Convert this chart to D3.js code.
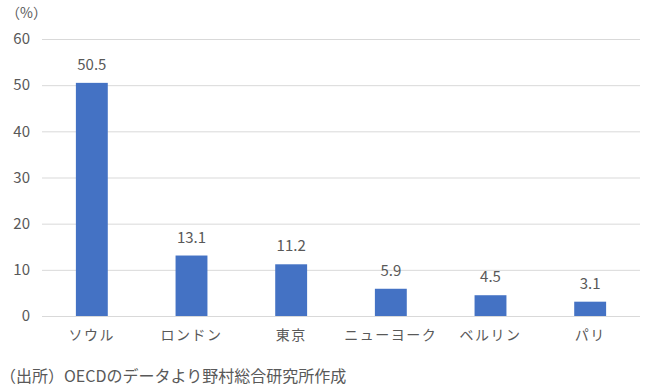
<!DOCTYPE html>
<html>
<head>
<meta charset="utf-8">
<script src="https://cdn.jsdelivr.net/npm/d3@7"></script>
<style>
  body { margin: 0; background: #fff; }
  text { font-family: "Noto Sans CJK JP", "Noto Sans", sans-serif; fill: #595959; }
</style>
</head>
<body>
<div id="chart"></div>
<script>
// 都市別の数値 (%)
const cities = ["ソウル", "ロンドン", "東京", "ニューヨーク", "ベルリン", "パリ"];
const values = [50.5, 13.1, 11.2, 5.9, 4.5, 3.1];
const yTicks = [0, 10, 20, 30, 40, 50, 60];

const width = 646,
      height = 390,
      margin = ({top: 39, right: 6, bottom: 74, left: 42});

const svg = d3.select("#chart")
    .append("svg")
    .attr("width", width)
    .attr("height", height)
    .attr("viewBox", [0, 0, width, height]);

const x = d3.scaleBand()
    .domain(cities)
    .range([margin.left, width - margin.right])
    .paddingInner(0.68)
    .paddingOuter(0.34);

const y = d3.scaleLinear()
    .domain([0, 60])
    .range([height - margin.bottom, margin.top]);

// gridlines + y labels
const yAxis = g => g
    .attr("transform", `translate(${margin.left}, 0)`)
    .call(d3.axisLeft(y).tickValues(yTicks).tickSize(-(width - margin.left - margin.right)).tickPadding(12))
    .call(g => g.select(".domain").remove())
    .call(g => g.selectAll("line").attr("stroke", "#d9d9d9"))
    .call(g => g.selectAll("text").attr("font-size", 15).style("fill", "#595959"));

svg.append("g").call(yAxis);

const bar = svg.selectAll(".bar")
    .data(values)
    .join("g")
    .attr("class", "bar");

bar.append("rect")
    .attr("fill", "#4472C4")
    .attr("x", (d, i) => x(cities[i]))
    .attr("width", x.bandwidth())
    .attr("y", d => y(d))
    .attr("height", d => y(0) - y(d));

bar.append("text")
    .text(d => d.toFixed(1))
    .attr("x", (d, i) => x(cities[i]) + x.bandwidth() / 2)
    .attr("y", d => y(d) - 13)
    .attr("text-anchor", "middle")
    .attr("font-size", 15);

// x labels
const xAxis = g => g
    .attr("transform", `translate(0, ${height - margin.bottom})`)
    .call(d3.axisBottom(x).tickSize(0).tickPadding(14))
    .call(g => g.select(".domain").remove())
    .call(g => g.selectAll("text").attr("font-size", 14).attr("letter-spacing", "1.5px").style("fill", "#595959"));

svg.append("g").call(xAxis);

svg.append("text")
    .attr("x", 6)
    .attr("y", 18)
    .attr("font-size", 14)
    .text("（%）");

svg.append("text")
    .attr("x", 0)
    .attr("y", 382)
    .attr("font-size", 16)
    .text("（出所）OECDのデータより野村総合研究所作成");
</script>
</body>
</html>
